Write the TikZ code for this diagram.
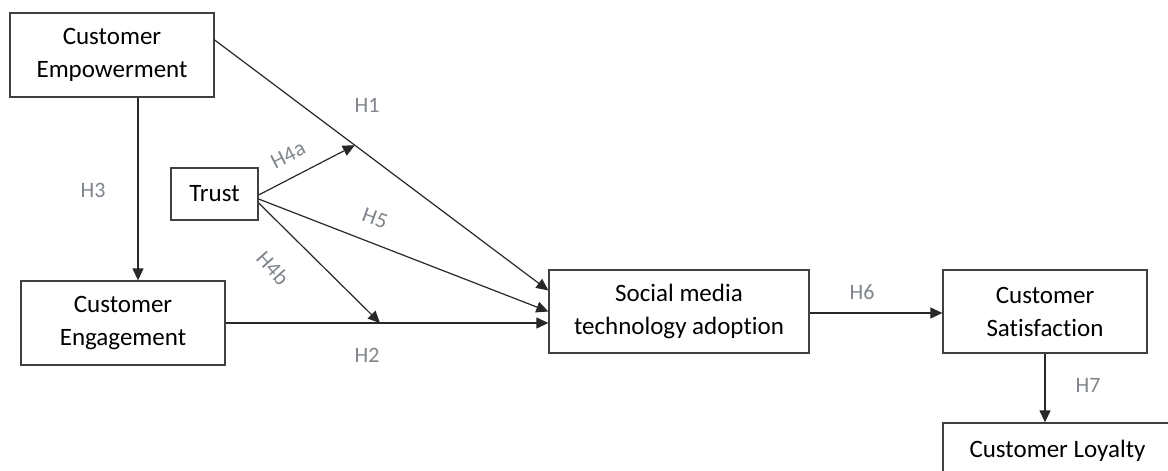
\documentclass[tikz,border=0pt]{standalone}
\usepackage{fontspec}
\setmainfont{Carlito}[Ligatures=NoCommon]
\usetikzlibrary{arrows.meta,calc}
\definecolor{boxline}{RGB}{64,64,64}
\definecolor{arrline}{RGB}{40,40,40}
\definecolor{hlab}{RGB}{128,134,140}
\begin{document}
\begin{tikzpicture}[x=1pt,y=-1pt,
  box/.style={draw=boxline,line width=1.3pt,align=center,inner sep=0pt,
    font=\fontsize{25}{33}\selectfont},
  conn/.style={draw=arrline,line width=1.2pt,-{Triangle[length=12pt,width=11pt]}},
  hl/.style={text=hlab,font=\fontsize{22}{26}\selectfont,inner sep=0pt}]
\useasboundingbox (0,0) rectangle (1168,471);
\fill[white] (0,0) rectangle (1168,471);
% boxes
\node[box,minimum width=204pt,minimum height=84pt] (emp) at (112,55) {Customer\\Empowerment};
\node[box,minimum width=204pt,minimum height=84pt] (eng) at (123,323) {Customer\\Engagement};
\node[box,minimum width=87pt,minimum height=52pt] (trust) at (214.5,194) {\raisebox{2pt}{Trust}};
\node[box,minimum width=260pt,minimum height=83pt] (sm) at (679,311.5) {Social media\\technology adoption};
\node[box,minimum width=204pt,minimum height=83pt] (sat) at (1045,311.5) {Customer\\Satisfaction};
\node[box,minimum width=229pt,minimum height=84pt] (loy) at (1057.5,465) {Customer Loyalty\\\mbox{}};
% connectors
\path ([yshift=15pt]emp.east) coordinate (h1s) -- ([yshift=21pt]sm.west) coordinate (h1e)
  coordinate[pos=0.42] (h4at);
\draw[conn] (h1s) -- (h1e);
\draw[conn] ([xshift=26pt]emp.south) coordinate (h3s) -- (h3s |- eng.north);
\draw[conn] (eng.east) -- (eng.east -| sm.west);
\coordinate (h4bt) at (380,323);
\draw[conn] ([yshift=-1pt]trust.east) -- (h4at);
\draw[conn] ([yshift=-5pt]trust.east) -- (sm.west);
\draw[conn] ([yshift=-9pt]trust.east) -- (h4bt);
\draw[conn] ([yshift=-1.5pt]sm.east) -- ([yshift=-1.5pt]sat.west);
\draw[conn] (sat.south) -- (sat.south |- loy.north);
% labels
\node[hl] (lh1) at (367,105) {H1};
\node[hl] (lh3) at (93,190) {H3};
\node[hl] (lh2) at (367,355) {H2};
\node[hl] (lh6) at (862,292) {H6};
\node[hl] (lh7) at (1088,385) {H7};
\node[hl,rotate=27] (lh4a) at (288,155) {H4a};
\node[hl,rotate=-20] (lh5) at (375,218) {H5};
\node[hl,rotate=-48] (lh4b) at (273,268) {H4b};
\end{tikzpicture}
\end{document}
